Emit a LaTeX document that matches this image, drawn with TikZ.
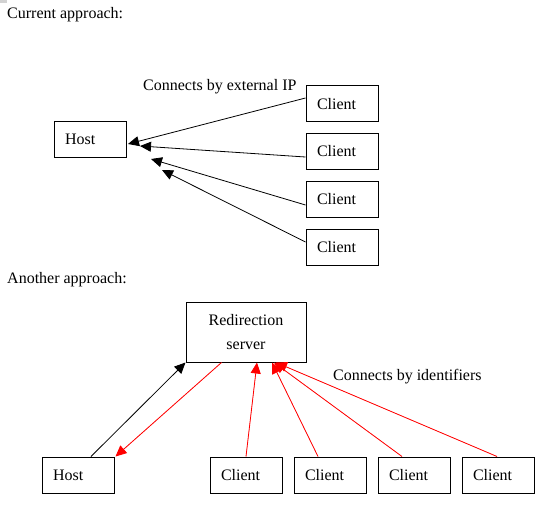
\documentclass[tikz,border=0pt]{standalone}
\usepackage{fontspec}
\setmainfont{Liberation Serif}
\usetikzlibrary{arrows.meta,calc}
\begin{document}
\begin{tikzpicture}[x=1pt,y=-1pt,
  txt/.style={font=\fontsize{16}{24}\selectfont, inner sep=0pt},
  box/.style={draw, line width=1pt, minimum width=72pt, minimum height=36pt,
    inner xsep=11pt, inner ysep=0pt, text width=50pt, align=left,
    text depth=-1.5pt, font=\fontsize{16}{24}\selectfont},
  bigbox/.style={draw, line width=1pt, minimum width=120pt, minimum height=60pt,
    inner sep=0pt, text width=110pt, align=center,
    font=\fontsize{16}{24}\selectfont},
  conn/.style={line width=0.8pt, -{Triangle[length=11pt,width=10pt]}},
  redconn/.style={conn, draw=red, fill=red}]
\useasboundingbox (0,0) rectangle (550,506);
\fill[gray!35] (0,0) rectangle (7,3);
% top section
\node[txt, anchor=base west] (t1) at (7,19) {Current approach:};
\node[box] (h1) at (90,139) {Host};
\node[box] (c1) at (342,103.5) {Client};
\node[box] (c2) at (342,151) {Client};
\node[box] (c3) at (342,199) {Client};
\node[box] (c4) at (342,247) {Client};
\node[txt, anchor=base west] (lab1) at (143,90) {Connects by external IP};
\coordinate (p1) at (128,144);
\coordinate (p2) at (140,146);
\coordinate (p3) at (151,159);
\coordinate (p4) at (162,170);
\draw[conn] ($(c1.west)+(0,-5.5)$) -- (p1);
\draw[conn] ($(c2.west)+(0,6)$) -- (p2);
\draw[conn] ($(c3.west)+(0,6)$) -- (p3);
\draw[conn] ($(c4.west)+(0,-5)$) -- (p4);
% bottom section
\node[txt, anchor=base west] (t2) at (7,283) {Another approach:};
\node[bigbox] (s) at (246,332) {Redirection\\server};
\node[box] (h2) at (78,475) {Host};
\node[box] (d1) at (246,475) {Client};
\node[box] (d2) at (330,475) {Client};
\node[box] (d3) at (414,475) {Client};
\node[box] (d4) at (498,475) {Client};
\node[txt, anchor=base west] (lab2) at (333,380) {Connects by identifiers};
\draw[conn] ($(h2.north)+(13,0)$) -- (s.south west);
\draw[redconn] ($(s.south west)+(36,0)$) -- ($(h2.north east)+(1,0)$);
\draw[redconn] (d1.north) -- ($(s.south)+(11,0)$);
\draw[redconn] ($(d2.north)+(-12,0)$) -- ($(s.south)+(26,0)$);
\draw[redconn] ($(d3.north)+(-12,0)$) -- ($(s.south)+(28,0)$);
\draw[redconn] ($(d4.north)+(-1,0)$) -- ($(s.south)+(30,0)$);
\end{tikzpicture}
\end{document}
